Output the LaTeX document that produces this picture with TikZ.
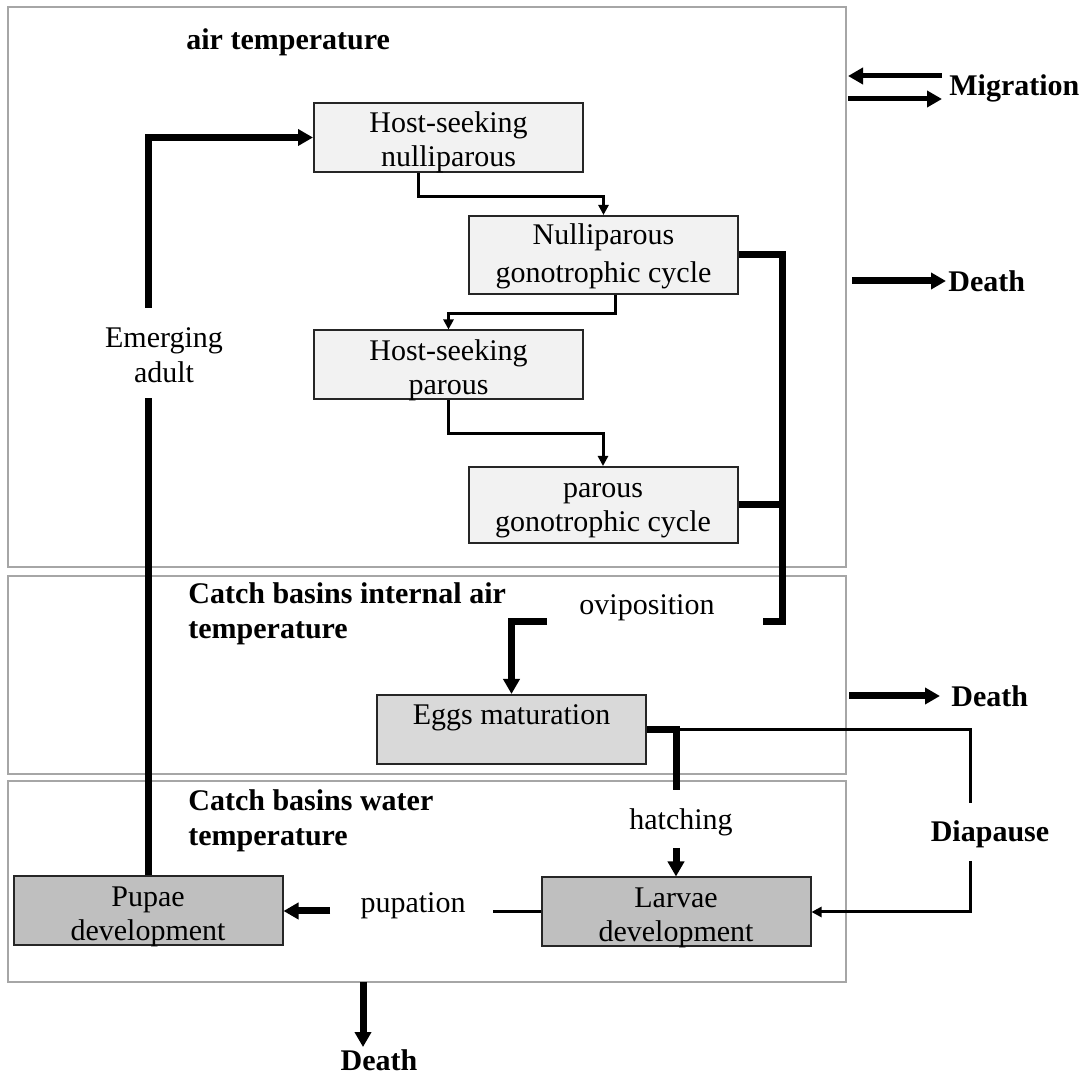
\documentclass[tikz,border=0pt]{standalone}
\usepackage{fontspec}
\setmainfont{Liberation Serif}
\usetikzlibrary{arrows.meta,calc}

\begin{document}
\begin{tikzpicture}[
  x=0.5pt, y=-0.5pt,
  >={Triangle[length=5pt,width=5pt]},
  zone/.style={draw=gray!70, line width=1.2pt},
  stage/.style={draw=black!85, line width=1pt, minimum width=134.5pt, minimum height=34.5pt,
                inner sep=0pt, align=center, text height=32pt, text depth=2.5pt,
                font=\fontsize{15}{17}\selectfont},
  zonetitle/.style={font=\fontsize{15}{17.5}\selectfont\bfseries, align=left, anchor=west, inner sep=1pt},
  tag/.style={font=\fontsize{15}{17.5}\selectfont, align=center, inner sep=1pt},
  link/.style={line width=1.5pt},
  heavy/.style={line width=3.5pt},
  heavytip/.style={-{Triangle[length=7.5pt,width=8pt]}}
]
\useasboundingbox (0,0) rectangle (1089,1074);

% --- Temperature zones ---
\draw[zone] (8,7) rectangle (846,567);
\draw[zone] (8,576) rectangle (846,774);
\draw[zone] (8,781) rectangle (846,982);

\node[zonetitle] (tAir) at (184,42) {air temperature};
\node[zonetitle] (tBasinAir) at (186,614) {Catch basins internal air\\temperature};
\node[zonetitle] (tBasinWater) at (186,821) {Catch basins water\\temperature};

% --- Adult stages ---
\node[stage, fill=gray!10] (hsn) at (448.5,137.5) {Host-seeking\\nulliparous};
\node[stage, fill=gray!10, minimum height=39pt, text height=33pt, text depth=5pt,
      font=\fontsize{15}{19}\selectfont] (ngc) at (603.5,255) {Nulliparous\\gonotrophic cycle};
\node[stage, fill=gray!10] (hsp) at (448.5,365) {Host-seeking\\parous};
\node[stage, fill=gray!10, minimum height=38pt, text height=32pt, text depth=5pt] (pgc) at (603,505) {parous\\gonotrophic cycle};

% --- Aquatic stages ---
\node[stage, fill=gray!30, text height=10pt, text depth=14.5pt] (eggs) at (511.5,729.5) {Eggs maturation};
\node[stage, fill=gray!50] (larvae) at (676,912) {Larvae\\development};
\node[stage, fill=gray!50, minimum height=33pt] (pupae) at (148,911) {Pupae\\development};

% --- Transition labels ---
\node[tag] (emerge) at (164,355) {Emerging\\adult};
\node[tag] (ovi) at (647,608) {oviposition};
\node[tag] (hatch) at (681,822) {hatching};
\node[tag] (pup) at (413,906) {pupation};
\node[zonetitle, anchor=center] (diap) at (990,834) {Diapause};

% --- Outside flows ---
\node[zonetitle] (mig) at (947,88) {Migration};
\node[zonetitle] (deathA) at (946,281) {Death};
\node[zonetitle] (deathB) at (949,696) {Death};
\node[zonetitle, anchor=center] (deathC) at (379,1060) {Death};

\coordinate (oviR) at (763,622);
\coordinate (oviL) at (547,622);
\coordinate (bend) at (782,622);
\coordinate (hatchTop) at (676,790);
\coordinate (hatchBot) at (676,848);
\coordinate (diapTop) at (970,803);
\coordinate (diapBot) at (970,861);
\coordinate (pupR) at (493,912);
\coordinate (pupL) at (330,911);
\coordinate (emTop) at (148,308);
\coordinate (emBot) at (148,398);
\coordinate (deathTop) at (363,982);

% --- Gonotrophic cycle ---
\draw[link, ->] ([xshift=-15pt]hsn.south) -- ++(0,24) -| (ngc.north);
\draw[link, ->] ([xshift=6pt]ngc.south) -- ++(0,19) -| (hsp.north);
\draw[link, ->] (hsp.south) -- ++(0,33) -| (pgc.north);

\draw[heavy] (ngc.east) -| (bend) -- (oviR);
\draw[heavy] (pgc.east) -- (pgc.east -| bend);
\draw[heavy, heavytip] (oviL) -| (eggs.north);

% --- Eggs, larvae, pupae ---
\draw[link] (eggs.east) -| (diapTop);
\draw[link, ->] (diapBot) |- (larvae.east);
\draw[heavy] (eggs.east) -| (hatchTop);
\draw[heavy, heavytip] (hatchBot) -- (larvae.north);

\draw[link] (larvae.west) -- (larvae.west -| pupR);
\draw[heavy, heavytip] (pupL) -- (pupL -| pupae.east);

\draw[heavy] (pupae.north) -- (pupae.north |- emBot);
\draw[heavy, heavytip] (emTop) |- (hsn.west);

% --- Migration and death ---
\draw[line width=2.5pt, heavytip] ([xshift=-2.5pt, yshift=6pt]mig.west) -- ++(-47pt,0);
\draw[line width=2.5pt, heavytip] ([xshift=-49.5pt, yshift=-5.5pt]mig.west) -- ++(47pt,0);
\draw[heavy, heavytip] ([xshift=-47pt]deathA.west) -- (deathA.west);
\draw[heavy, heavytip] ([xshift=-50pt]deathB.west) -- ([xshift=-4.5pt]deathB.west);
\draw[heavy, heavytip] (deathTop) -- (deathTop |- deathC.north);

\end{tikzpicture}
\end{document}
